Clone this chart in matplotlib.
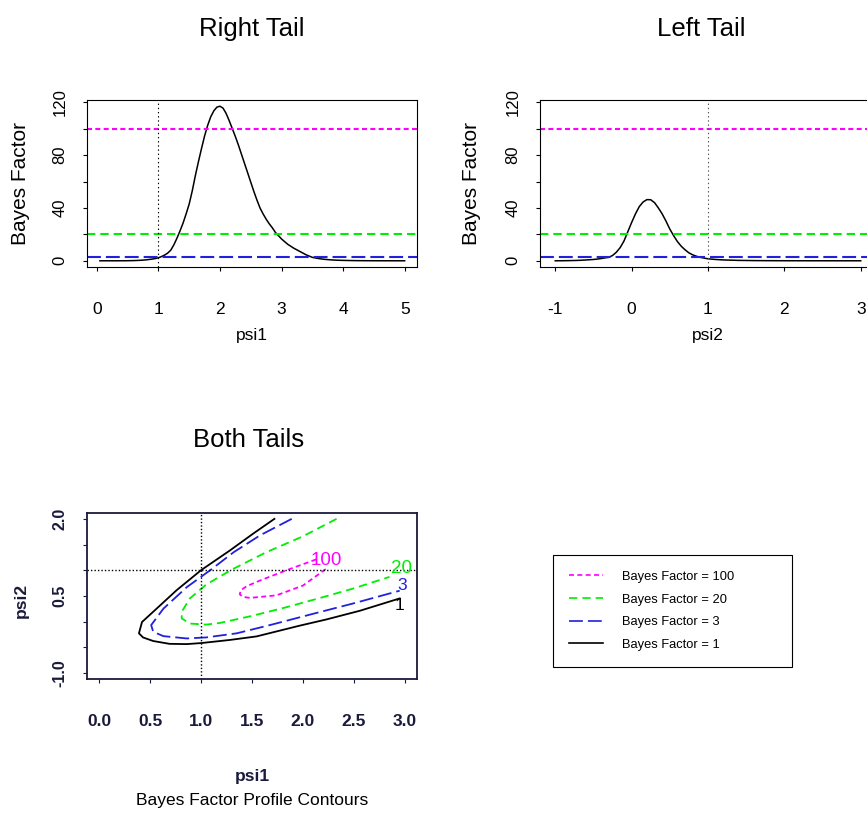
import matplotlib
matplotlib.use('Agg')
import matplotlib.pyplot as plt
from matplotlib.lines import Line2D

W, H = 867.0, 814.0
SANS = ['Liberation Sans', 'DejaVu Sans']
NAVY = '#1a1a3c'

plt.rcParams['font.family'] = SANS
plt.rcParams['lines.scale_dashes'] = False

# Bayes factor reference levels
levels = [100, 20, 3, 1]
level_colors = ['#ff00ff', '#00ee00', '#2020dd', 'black']
level_dashes = [(3.6, 2.4), (6.0, 3.6), (10.0, 3.6), None]
legend_labels = ['Bayes Factor = 100', 'Bayes Factor = 20', 'Bayes Factor = 3', 'Bayes Factor = 1']

# Right tail profile (psi1)
psi1 = [0.05, 0.3, 0.5, 0.6, 0.7, 0.8, 0.9, 0.95, 1.0, 1.05, 1.1, 1.15, 1.2, 1.25, 1.3, 1.35,
        1.4, 1.45, 1.5, 1.55, 1.6, 1.65, 1.7, 1.75, 1.8, 1.85, 1.9, 1.95, 2.0, 2.05, 2.1, 2.15,
        2.2, 2.25, 2.3, 2.35, 2.4, 2.45, 2.5, 2.55, 2.6, 2.65, 2.7, 2.75, 2.8, 2.85, 2.9, 2.95,
        3.0, 3.1, 3.2, 3.3, 3.4, 3.5, 3.6, 3.7, 3.8, 3.9, 4.0, 4.2, 4.4, 4.7, 5.0]
bf_right = [0.0, 0.0, 0.05, 0.15, 0.35, 0.7, 1.3, 1.7, 2.3, 3.2, 4.3, 5.8, 8.0, 12.0, 17.0, 22.5,
            28.5, 35.5, 43.0, 53.0, 64.5, 75.0, 85.0, 94.5, 102.5, 109.0, 113.5, 116.3, 117.0, 115.5, 111.5, 106.0,
            100.0, 94.0, 87.5, 80.5, 73.5, 66.5, 59.5, 52.5, 46.0, 40.0, 35.5, 31.5, 28.0, 25.0, 21.5, 19.0,
            16.5, 12.5, 9.5, 7.0, 4.5, 2.6, 1.7, 1.1, 0.7, 0.45, 0.3, 0.12, 0.05, 0.01, 0.0]

# Left tail profile (psi2)
psi2 = [-1.0, -0.9, -0.8, -0.7, -0.6, -0.5, -0.45, -0.4, -0.35, -0.3, -0.25, -0.2, -0.15, -0.1,
        -0.05, 0.0, 0.05, 0.1, 0.15, 0.2, 0.25, 0.3, 0.35, 0.4, 0.45, 0.5, 0.55, 0.6, 0.65, 0.7,
        0.75, 0.8, 0.85, 0.9, 1.0, 1.1, 1.2, 1.4, 1.6, 1.8, 2.0, 2.5, 3.0]
bf_left = [0.0, 0.05, 0.15, 0.3, 0.6, 1.0, 1.3, 1.7, 2.2, 2.6, 4.0, 6.5, 10.0, 15.0,
           22.0, 29.0, 35.5, 41.0, 44.5, 46.3, 46.2, 44.0, 40.0, 35.5, 30.0, 24.0, 19.0, 14.5, 11.0, 8.3,
           6.0, 4.5, 3.4, 2.6, 1.5, 1.0, 0.65, 0.3, 0.15, 0.08, 0.04, 0.01, 0.0]

# Contour lines of the joint profile
c100_x = [2.13, 1.84, 1.58, 1.45, 1.39, 1.38, 1.41, 1.48, 1.74, 2.00, 2.23]
c100_y = [1.21, 1.00, 0.80, 0.69, 0.61, 0.53, 0.48, 0.46, 0.51, 0.70, 1.03]
c20_x = [2.33, 2.00, 1.64, 1.31, 1.05, 0.89, 0.81, 0.81, 0.89, 1.05, 1.18, 1.50, 1.84, 2.17, 2.49, 2.85]
c20_y = [2.00, 1.66, 1.35, 1.02, 0.72, 0.45, 0.19, 0.06, -0.04, -0.06, -0.03, 0.11, 0.28, 0.46, 0.64, 0.87]
c3_x = [1.89, 1.58, 1.32, 1.09, 0.86, 0.63, 0.51, 0.53, 0.63, 0.86, 1.05, 1.35, 1.675, 2.08, 2.49, 2.95]
c3_y = [2.00, 1.68, 1.35, 1.00, 0.67, 0.25, -0.07, -0.20, -0.285, -0.33, -0.31, -0.23, -0.07, 0.14, 0.35, 0.60]
c1_x = [1.72, 1.51, 1.28, 1.00, 0.76, 0.53, 0.42, 0.39, 0.43, 0.53, 0.69, 0.86, 1.00, 1.28, 1.545, 1.97, 2.23, 2.56, 2.95]
c1_y = [2.00, 1.71, 1.38, 1.00, 0.61, 0.19, -0.01, -0.23, -0.31, -0.38, -0.435, -0.44, -0.42, -0.36, -0.29, -0.08, 0.04, 0.21, 0.45]
clabel_text = ['100', '20', '3', '1']
clabel_x = [2.23, 2.97, 2.97, 2.95]
clabel_y = [1.19, 1.04, 0.71, 0.32]
clabel_size = [13.5, 13.5, 12.5, 12.5]


def draw_levels(ax):
    for lev, col, ds in zip(levels[:3], level_colors[:3], level_dashes[:3]):
        ax.axhline(lev, color=col, lw=1.5, dashes=ds)


def tail_axes(ax, x, y, xlim, xticks, xlab, title, vcol, title_x):
    ax.plot(x, y, color='black', lw=1.1)
    draw_levels(ax)
    ax.axvline(1.0, color=vcol, lw=0.8, dashes=(1, 2))
    ax.set_xlim(xlim)
    ax.set_ylim(-4.7, 121.7)
    ax.set_xticks(xticks)
    ax.set_xticklabels([str(t) for t in xticks], fontsize=12.5)
    ax.set_yticks([0, 20, 40, 60, 80, 100, 120])
    ax.set_yticklabels(['0', '', '40', '', '80', '', '120'], rotation=90, va='center', fontsize=12)
    ax.tick_params(axis='x', length=3, pad=22)
    ax.tick_params(axis='y', length=3, pad=11)
    ax.set_xlabel(xlab, fontsize=12.5, va='center')
    ax.xaxis.set_label_coords(0.5, -0.41)
    ax.set_ylabel('Bayes Factor', fontsize=15, va='center')
    ax.yaxis.set_label_coords(-0.2, 0.5)
    ax.text(title_x, 1.425, title, transform=ax.transAxes, ha='center', va='center', fontsize=18.5)


fig = plt.figure(figsize=(W / 100, H / 100), dpi=100)

ax1 = fig.add_axes([87 / W, 1 - 267 / H, 330 / W, 167 / H])
tail_axes(ax1, psi1, bf_right, (-0.16, 5.2), [0, 1, 2, 3, 4, 5], 'psi1', 'Right Tail', 'black', 0.5)

ax2 = fig.add_axes([540 / W, 1 - 267 / H, 336 / W, 167 / H])
tail_axes(ax2, psi2, bf_left, (-1.2, 3.2), [-1, 0, 1, 2, 3], 'psi2', 'Left Tail', '#555555', 0.479)
ax2.yaxis.set_label_coords(-0.205, 0.5)

# Both tails contour plot
ax3 = fig.add_axes([87 / W, 1 - 679 / H, 330 / W, 166.3 / H])
cont_x = [c100_x, c20_x, c3_x, c1_x]
cont_y = [c100_y, c20_y, c3_y, c1_y]
for cx, cy, col, ds in zip(cont_x, cont_y, level_colors, level_dashes):
    if ds is None:
        ax3.plot(cx, cy, color=col, lw=1.3)
    else:
        ax3.plot(cx, cy, color=col, lw=1.3, dashes=ds)
for txt, tx, ty, col, fs in zip(clabel_text, clabel_x, clabel_y, level_colors, clabel_size):
    ax3.text(tx, ty, txt, color=col, fontsize=fs, ha='center', va='center')
ax3.axvline(1.0, color='black', lw=1.0, dashes=(1, 1.5))
ax3.axhline(1.0, color='black', lw=1.0, dashes=(1, 1.5))
ax3.set_xlim(-0.12, 3.12)
ax3.set_ylim(-1.12, 2.12)
ax3.set_xticks([0.0, 0.5, 1.0, 1.5, 2.0, 2.5, 3.0])
ax3.set_xticklabels(['0.0', '0.5', '1.0', '1.5', '2.0', '2.5', '3.0'], fontsize=12.5,
                    fontweight='bold', color=NAVY)
ax3.set_yticks([-1.0, -0.5, 0.0, 0.5, 1.0, 1.5, 2.0])
ax3.set_yticklabels(['-1.0', '', '', '0.5', '', '', '2.0'], rotation=90, va='center',
                    fontsize=11.5, fontweight='bold', color=NAVY)
ax3.tick_params(axis='x', length=3, pad=22, color=NAVY)
ax3.tick_params(axis='y', length=3, pad=11, color=NAVY)
for sp in ax3.spines.values():
    sp.set_color(NAVY)
    sp.set_linewidth(1.3)
ax3.set_xlabel('psi1', fontsize=12.5, fontweight='bold', color=NAVY, va='center')
ax3.xaxis.set_label_coords(0.5, -0.585)
ax3.set_ylabel('psi2', fontsize=12.5, fontweight='bold', color=NAVY, va='center')
ax3.yaxis.set_label_coords(-0.2, 0.47)
ax3.text(0.5, -0.728, 'Bayes Factor Profile Contours', transform=ax3.transAxes,
         ha='center', va='center', fontsize=12.5)
ax3.text(0.49, 1.437, 'Both Tails', transform=ax3.transAxes, ha='center', va='center', fontsize=18.5)

# Legend box
handles = []
for col, ds in zip(level_colors, level_dashes):
    if ds is None:
        handles.append(Line2D([], [], color=col, lw=1.2))
    else:
        handles.append(Line2D([], [], color=col, lw=1.2, dashes=ds))
leg = fig.legend(handles, legend_labels, loc='center',
                 bbox_to_anchor=(552.7 / W, 1 - 669 / H, 239 / W, 116.3 / H), mode='expand',
                 fontsize=9.3, handlelength=2.64, handletextpad=1.45, borderpad=1.26,
                 labelspacing=0.82, borderaxespad=0, fancybox=False, framealpha=1)
leg.get_frame().set_edgecolor('black')
leg.get_frame().set_linewidth(0.8)

fig.savefig('out.png', dpi=100)
